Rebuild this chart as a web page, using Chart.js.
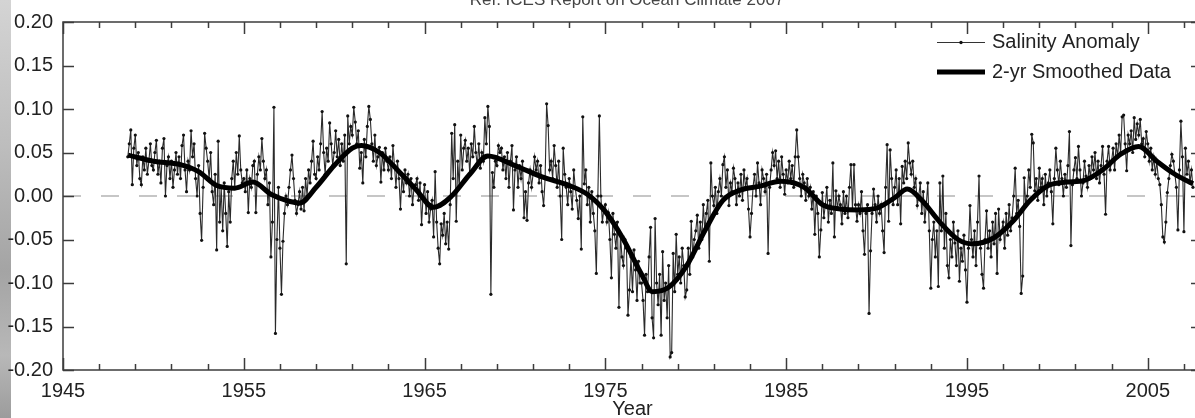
<!DOCTYPE html>
<html>
<head>
<meta charset="utf-8">
<script src="https://cdn.jsdelivr.net/npm/chart.js@4/dist/chart.umd.min.js"></script>
<style>
  html, body { margin: 0; padding: 0; background: #fff; width: 1195px; height: 418px; overflow: hidden; }
  #strip { position: absolute; left: 0; top: 0; width: 11px; height: 418px;
    background: linear-gradient(to bottom, #d4d4d4, #bdbdbd 35%, #a4a4a4 65%, #b8b8b8 85%, #9c9c9c); }
  #wrap { position: absolute; left: 0; top: 0; width: 1206px; height: 418px; }
</style>
</head>
<body>
<div id="strip"></div>
<div id="wrap"><canvas id="myChart"></canvas></div>
<script>
// monthly salinity anomaly, first value = Aug 1948
const rawStartYear = 1948 + 7 / 12;

const sal1948to1959 = [
  0.045, 0.060, 0.076, 0.013, 0.055,
  0.070, 0.035, 0.050, 0.020, 0.013, 0.045, 0.030, 0.055, 0.025, 0.040, 0.060, 0.035,
  0.030, 0.050, 0.064, 0.025, 0.040, 0.015, 0.055, 0.066, 0.000, 0.035, 0.045, 0.020,
  0.040, 0.010, 0.030, 0.050, 0.025, 0.045, 0.020, 0.058, 0.070, 0.030, 0.005, 0.040,
  0.030, 0.075, 0.045, 0.060, 0.020, 0.000, 0.035, -0.020, -0.051, 0.010, 0.072, 0.055,
  0.040, 0.020, 0.050, 0.005, -0.010, 0.025, -0.062, 0.063, -0.030, 0.010, -0.040, 0.015,
  -0.020, -0.058, 0.005, -0.030, 0.020, 0.040, 0.010, 0.050, 0.025, 0.069, 0.030, 0.015,
  0.020, 0.005, 0.030, -0.019, 0.020, 0.010, 0.035, 0.040, -0.019, 0.025, 0.045, 0.030,
  0.066, 0.040, 0.020, 0.030, -0.010, 0.015, -0.070, -0.030, 0.102, -0.158, -0.050, 0.010,
  -0.060, -0.113, -0.052, -0.020, 0.000, -0.010, 0.010, 0.030, 0.047, 0.020, -0.005, -0.020,
  -0.010, 0.005, -0.015, 0.010, -0.017, 0.020, 0.000, 0.030, 0.015, 0.040, 0.063, 0.025,
  0.020, 0.045, 0.030, 0.060, 0.097, 0.050, 0.025, 0.055, 0.040, 0.084, 0.060, 0.035
];

const sal1960s = [
  0.050, 0.075, 0.045, 0.065, 0.035, 0.060, 0.040, 0.070, -0.078, 0.092, 0.060, 0.080,
  0.070, 0.102, 0.085, 0.060, 0.075, 0.032, 0.050, 0.015, 0.065, 0.045, 0.080, 0.103,
  0.088, 0.060, 0.040, 0.070, 0.035, 0.045, 0.056, 0.016, 0.050, 0.030, 0.055, 0.040,
  0.030, 0.045, 0.020, 0.058, 0.035, 0.010, 0.040, 0.020, -0.015, 0.025, 0.005, 0.030,
  0.015, 0.025, 0.000, 0.020, -0.010, 0.010, 0.013, 0.020, -0.005, 0.015, -0.033, 0.000,
  0.013, -0.020, 0.005, -0.030, -0.015, -0.005, -0.047, 0.028, -0.030, -0.060, -0.078, -0.032,
  -0.045, -0.020, -0.055, -0.030, -0.061, -0.010, 0.072, 0.020, 0.082, -0.029, 0.040, 0.010,
  0.070, 0.030, 0.055, 0.064, 0.040, 0.055, 0.025, 0.060, 0.045, 0.080, 0.050, 0.035,
  0.060, 0.032, 0.050, 0.040, 0.090, 0.060, 0.103, 0.080, -0.113, 0.027, 0.010, 0.040,
  0.035, 0.058, 0.050, 0.055, 0.030, 0.045, 0.020, 0.050, 0.010, 0.040, 0.058, -0.016
];

const sal1970s = [
  0.030, 0.045, 0.010, 0.035, 0.020, 0.040, -0.025, 0.005, -0.028, 0.015, 0.030, 0.010,
  0.025, 0.045, 0.030, 0.040, 0.015, 0.035, 0.005, -0.011, 0.020, 0.106, 0.081, 0.030,
  0.040, 0.020, 0.058, 0.035, 0.010, 0.040, 0.000, -0.050, 0.055, 0.025, 0.010, -0.010,
  0.020, 0.005, -0.015, 0.030, 0.010, -0.005, -0.026, 0.000, -0.061, 0.091, 0.014, 0.030,
  -0.010, 0.010, -0.030, 0.005, -0.020, -0.040, -0.089, 0.000, 0.092, 0.000, -0.030, -0.015,
  -0.010, -0.030, -0.019, -0.050, -0.094, -0.020, -0.044, -0.060, -0.030, -0.128, -0.044, -0.070,
  -0.080, -0.050, -0.060, -0.137, -0.108, -0.070, -0.110, -0.062, -0.085, -0.120, -0.075, -0.100,
  -0.100, -0.120, -0.160, -0.090, -0.110, -0.070, -0.036, -0.140, -0.163, -0.026, -0.100, -0.125,
  -0.090, -0.160, -0.064, -0.120, -0.100, -0.140, -0.080, -0.185, -0.180, -0.066, -0.110, -0.044,
  -0.090, -0.070, -0.100, -0.060, -0.080, -0.116, -0.108, -0.060, -0.090, -0.029, -0.070, -0.050
];

const sal1980s = [
  -0.040, -0.022, -0.060, -0.030, -0.050, -0.010, -0.040, -0.020, -0.005, -0.075, 0.038, 0.000,
  -0.011, 0.010, -0.020, 0.005, 0.020, 0.000, 0.036, 0.045, 0.010, 0.030, -0.011, 0.015,
  0.005, 0.032, 0.020, -0.010, 0.015, 0.000, 0.025, -0.005, 0.030, 0.010, 0.020, -0.015,
  -0.047, -0.020, 0.010, 0.025, 0.000, 0.038, 0.015, -0.010, 0.030, 0.020, 0.005, 0.025,
  -0.066, 0.010, 0.030, 0.050, 0.035, 0.052, 0.020, 0.040, 0.010, 0.045, 0.025, 0.002,
  0.030, 0.015, 0.040, 0.020, 0.035, 0.010, 0.045, 0.076, 0.045, 0.020, 0.000, 0.025,
  0.015, -0.005, 0.020, 0.000, 0.010, -0.015, 0.005, -0.044, 0.000, -0.020, -0.070, -0.039,
  0.004, -0.025, -0.010, 0.010, -0.030, -0.005, -0.020, 0.038, -0.047, 0.006, -0.015, 0.000,
  -0.010, -0.032, 0.005, -0.020, 0.000, -0.025, 0.010, 0.036, -0.015, 0.036, -0.010, -0.029,
  -0.010, -0.020, 0.005, -0.040, -0.067, -0.020, -0.010, -0.135, -0.063, -0.020, 0.008, -0.010
];

const sal1990s = [
  -0.030, 0.000, -0.020, -0.010, -0.040, -0.065, 0.010, 0.059, -0.029, 0.053, 0.020, -0.010,
  0.010, 0.030, -0.010, 0.020, -0.032, 0.034, 0.015, 0.040, 0.020, 0.061, 0.038, 0.025,
  0.040, 0.010, 0.020, -0.011, 0.000, 0.015, -0.020, 0.005, -0.030, -0.010, 0.015, -0.040,
  -0.106, -0.050, -0.030, -0.070, -0.040, -0.104, 0.015, -0.040, 0.023, -0.060, -0.020, -0.080,
  -0.094, -0.050, -0.070, -0.030, -0.054, -0.080, -0.040, -0.098, -0.060, -0.075, -0.045, -0.085,
  -0.122, -0.060, -0.011, -0.050, -0.070, -0.040, -0.080, -0.030, 0.023, -0.060, -0.090, -0.106,
  -0.050, -0.017, -0.060, -0.040, -0.070, -0.030, -0.055, -0.020, -0.089, -0.015, -0.050, -0.040,
  -0.030, -0.060, -0.020, -0.045, -0.010, -0.040, -0.025, 0.000, 0.032, -0.020, -0.005, -0.035,
  -0.112, -0.092, 0.021, -0.010, 0.000, 0.030, 0.010, 0.071, 0.061, 0.006, 0.020, -0.005,
  0.032, 0.010, 0.020, -0.010, 0.025, 0.000, 0.015, 0.030, 0.005, -0.032, 0.020, 0.055
];

const sal2000s = [
  0.030, 0.013, 0.040, 0.020, 0.000, 0.025, 0.010, 0.035, 0.074, -0.057, 0.013, 0.030,
  0.044, 0.020, 0.057, 0.030, 0.000, 0.015, 0.040, 0.023, 0.010, 0.035, 0.020, 0.045,
  0.030, 0.050, 0.020, 0.040, 0.015, 0.035, 0.057, 0.025, -0.021, 0.040, 0.057, 0.030,
  0.040, 0.055, 0.030, 0.060, 0.045, 0.070, 0.050, 0.091, 0.093, 0.060, 0.029, 0.070,
  0.060, 0.075, 0.050, 0.090, 0.065, 0.083, 0.070, 0.088, 0.060, 0.066, 0.045, 0.074,
  0.060, 0.040, 0.055, 0.030, 0.045, 0.025, 0.040, 0.020, 0.013, -0.010, -0.047, -0.053,
  -0.030, 0.004, 0.020, 0.035, 0.048, 0.040, 0.025, 0.010, -0.039, 0.030, 0.086, 0.045,
  -0.041, 0.055, 0.025, 0.040, 0.015, 0.030, 0.010
];

// 2-yr smoothed curve, read at knots
const smoothYears = [1948.6, 1950, 1951.5, 1952.5, 1953.5, 1954.5, 1955.5, 1956.5, 1957.5, 1958.1,
  1959, 1960, 1961, 1961.5, 1962.5, 1963.5, 1964.5, 1965.5, 1966.5, 1967.5, 1968.5,
  1970, 1971.5, 1973, 1974, 1975, 1976, 1977, 1977.6, 1978.5, 1979.5, 1980.5, 1981.5,
  1982.5, 1983.5, 1984.7, 1986, 1987, 1988, 1989, 1990, 1991, 1991.7, 1992.5, 1993.5,
  1994.5, 1995.3, 1996.5, 1997.5, 1998.5, 1999.5, 2000.5, 2001.5, 2002.5, 2003.5, 2004.5,
  2005.5, 2006.5, 2007.5];
const smoothValues = [0.047, 0.040, 0.036, 0.028, 0.012, 0.009, 0.016, 0.002, -0.006, -0.008,
  0.010, 0.035, 0.055, 0.058, 0.050, 0.030, 0.008, -0.013, 0.000, 0.025, 0.046,
  0.035, 0.022, 0.012, 0.002, -0.018, -0.050, -0.090, -0.110, -0.105, -0.080, -0.040, -0.005,
  0.007, 0.011, 0.017, 0.010, -0.010, -0.015, -0.016, -0.014, -0.002, 0.008, -0.005, -0.030,
  -0.050, -0.055, -0.048, -0.030, -0.005, 0.012, 0.016, 0.018, 0.030, 0.048, 0.057,
  0.040, 0.025, 0.014];

const xTickYears = [1945, 1955, 1965, 1975, 1985, 1995, 2005];
const yTickValues = [-0.20, -0.15, -0.10, -0.05, 0.00, 0.05, 0.10, 0.15, 0.20];
const seriesNames = ['Salinity Anomaly', '2-yr Smoothed Data'];
const chartTitle = 'Ref: ICES Report on Ocean Climate 2007';

const salinity = [].concat(sal1948to1959, sal1960s, sal1970s, sal1980s, sal1990s, sal2000s);
const rawPoints = salinity.map((v, i) => ({ x: rawStartYear + i / 12, y: v }));
const smoothPoints = smoothYears.map((yr, i) => ({ x: yr, y: smoothValues[i] }));

const FONT = '"Liberation Sans", Arial, sans-serif';
const TEXT = '#222';

const framePlugin = {
  id: 'frame',
  afterDraw(chart) {
    const ctx = chart.ctx;
    const a = chart.chartArea;
    const xs = chart.scales.x, ys = chart.scales.y;
    ctx.save();
    ctx.strokeStyle = '#3c3c3c';
    ctx.lineWidth = 1.5;
    ctx.strokeRect(a.left, a.top, a.right - a.left, a.bottom - a.top);
    ctx.beginPath();
    for (let yr = 1945; yr <= 2008; yr += 2) {
      const px = Math.round(xs.getPixelForValue(yr)) + 0.5;
      const len = (yr - 1945) % 10 === 0 ? 12 : 6;
      ctx.moveTo(px, a.bottom); ctx.lineTo(px, a.bottom - len);
      ctx.moveTo(px, a.top); ctx.lineTo(px, a.top + len);
    }
    yTickValues.forEach(v => {
      const py = Math.round(ys.getPixelForValue(v)) + 0.5;
      ctx.moveTo(a.left, py); ctx.lineTo(a.left + 11, py);
      ctx.moveTo(a.right, py); ctx.lineTo(a.right - 11, py);
    });
    ctx.stroke();

    // title, partly above the picture
    ctx.fillStyle = '#444';
    ctx.font = '17px ' + FONT;
    ctx.textAlign = 'center';
    ctx.textBaseline = 'alphabetic';
    ctx.fillText(chartTitle, 627, 5);

    // legend
    ctx.textAlign = 'left';
    ctx.textBaseline = 'middle';
    ctx.font = '20px ' + FONT;
    ctx.strokeStyle = '#333';
    ctx.lineWidth = 1;
    ctx.beginPath(); ctx.moveTo(937, 42.5); ctx.lineTo(985, 42.5); ctx.stroke();
    ctx.beginPath(); ctx.arc(961, 42.5, 1.7, 0, Math.PI * 2); ctx.fillStyle = '#111'; ctx.fill();
    ctx.fillStyle = TEXT;
    ctx.fillText(seriesNames[0], 992, 42);
    ctx.strokeStyle = '#000';
    ctx.lineWidth = 5;
    ctx.beginPath(); ctx.moveTo(937, 72); ctx.lineTo(985, 72); ctx.stroke();
    ctx.fillText(seriesNames[1], 992, 72);
    ctx.restore();
  }
};

new Chart(document.getElementById('myChart'), {
  type: 'line',
  data: {
    datasets: [
      {
        label: seriesNames[1],
        data: smoothPoints,
        borderColor: '#000',
        borderWidth: 5,
        pointRadius: 0,
        cubicInterpolationMode: 'monotone',
        order: 0
      },
      {
        label: seriesNames[0],
        data: rawPoints,
        borderColor: '#2a2a2a',
        borderWidth: 1.1,
        pointRadius: 1.6,
        pointBorderWidth: 0,
        pointBackgroundColor: '#111',
        tension: 0,
        order: 1
      },
      {
        label: 'zero',
        data: [{ x: 1945, y: 0 }, { x: 2008, y: 0 }],
        borderColor: '#b4b4b4',
        borderWidth: 1.5,
        borderDash: [18, 20],
        pointRadius: 0,
        order: 2
      }
    ]
  },
  options: {
    responsive: true,
    maintainAspectRatio: false,
    animation: false,
    devicePixelRatio: 1,
    layout: { padding: { top: 20, right: 2, left: 0, bottom: 0 } },
    plugins: { legend: { display: false }, tooltip: { enabled: false } },
    scales: {
      x: {
        type: 'linear',
        min: 1945,
        max: 2008,
        afterFit: s => { s.height = 48; },
        afterBuildTicks: s => { s.ticks = xTickYears.map(v => ({ value: v })); },
        ticks: {
          autoSkip: false, maxRotation: 0, padding: 9,
          color: TEXT, font: { family: FONT, size: 20 },
          callback: v => String(v)
        },
        grid: { display: false, drawTicks: false, tickLength: 0 },
        border: { display: false },
        title: { display: true, text: 'Year', color: TEXT, font: { family: FONT, size: 20, lineHeight: 0.85 }, padding: 0 }
      },
      y: {
        min: -0.2,
        max: 0.2,
        afterFit: s => { s.width = 63; },
        afterBuildTicks: s => { s.ticks = yTickValues.map(v => ({ value: v })); },
        ticks: {
          padding: 10,
          color: TEXT, font: { family: FONT, size: 20 },
          callback: v => (Math.abs(v) < 1e-9 ? 0 : v).toFixed(2)
        },
        grid: { display: false, drawTicks: false, tickLength: 0 },
        border: { display: false }
      }
    }
  },
  plugins: [framePlugin]
});
</script>
</body>
</html>
